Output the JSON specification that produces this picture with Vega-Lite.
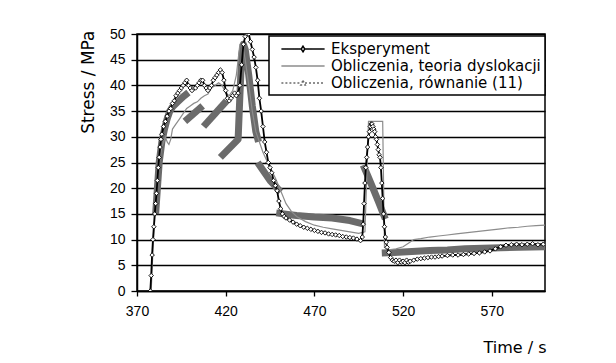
{
  "$schema": "https://vega.github.io/schema/vega-lite/v6.json",
  "width": 408,
  "height": 257,
  "autosize": {"type": "none"},
  "padding": {"left": 137, "top": 34, "right": 71, "bottom": 72},
  "background": "white",
  "config": {
    "font": "Liberation Sans",
    "view": {"stroke": "black", "strokeWidth": 1.5}
  },
  "datasets": {
    "exp": [
      {"t":377.5,"v":0},{"t":378,"v":3},{"t":378.5,"v":7},{"t":379,"v":10},{"t":379.5,"v":12.5},{"t":380,"v":15},{"t":380.5,"v":17},{"t":381,"v":19},{"t":381.5,"v":21.5},{"t":382,"v":24},{"t":382.5,"v":26},{"t":383,"v":28},{"t":383.5,"v":29.5},{"t":384,"v":30.5},{"t":385,"v":32},{"t":386,"v":33},{"t":387,"v":34},{"t":388,"v":35},{"t":389,"v":35.5},{"t":390,"v":36.5},{"t":391,"v":37},{"t":392,"v":38},{"t":393,"v":38.5},{"t":394,"v":39},{"t":395,"v":39.5},{"t":396,"v":40},{"t":397,"v":40.5},{"t":398,"v":41},{"t":399,"v":40},{"t":400,"v":39.5},{"t":401,"v":39},{"t":402,"v":39.5},{"t":403,"v":39.5},{"t":404,"v":40},{"t":405,"v":40.5},{"t":406,"v":41},{"t":407,"v":41},{"t":408,"v":40},{"t":409,"v":39.5},{"t":410,"v":39},{"t":411,"v":39.5},{"t":412,"v":40},{"t":413,"v":41},{"t":414,"v":41.5},{"t":415,"v":42},{"t":416,"v":42.5},{"t":417,"v":43},{"t":418,"v":42.5},{"t":419,"v":41},{"t":420,"v":39},{"t":421,"v":37.5},{"t":422,"v":37},{"t":423,"v":37.5},{"t":424,"v":38},{"t":425,"v":38.5},{"t":426,"v":38},{"t":427,"v":38.5},{"t":428,"v":40},{"t":429,"v":44},{"t":430,"v":48},{"t":431,"v":49.5},{"t":432,"v":50},{"t":433,"v":50},{"t":434,"v":48.5},{"t":435,"v":47},{"t":436,"v":45.5},{"t":437,"v":43.5},{"t":438,"v":41},{"t":439,"v":37.5},{"t":440,"v":35},{"t":441,"v":32},{"t":442,"v":29},{"t":443,"v":27},{"t":444,"v":25},{"t":445,"v":24},{"t":446,"v":23},{"t":447,"v":21.5},{"t":448,"v":20.5},{"t":449,"v":19.5},{"t":450,"v":17.5},{"t":451,"v":16},{"t":452,"v":15},{"t":453,"v":14.5},{"t":454,"v":14.2},{"t":456,"v":13.8},{"t":458,"v":13.4},{"t":460,"v":13},{"t":462,"v":12.7},{"t":464,"v":12.4},{"t":466,"v":12.2},{"t":468,"v":12},{"t":470,"v":11.8},{"t":472,"v":11.6},{"t":474,"v":11.4},{"t":476,"v":11.3},{"t":478,"v":11.1},{"t":480,"v":11},{"t":482,"v":10.9},{"t":484,"v":10.8},{"t":486,"v":10.6},{"t":488,"v":10.5},{"t":490,"v":10.4},{"t":492,"v":10.3},{"t":494,"v":10.1},{"t":496,"v":9.8},{"t":497,"v":10.5},{"t":497.5,"v":13},{"t":498,"v":17},{"t":498.5,"v":21},{"t":499,"v":24},{"t":499.5,"v":26},{"t":500,"v":28},{"t":500.5,"v":30},{"t":501,"v":31},{"t":501.5,"v":32},{"t":502,"v":32.5},{"t":502.5,"v":32.5},{"t":503,"v":32},{"t":503.5,"v":31.5},{"t":504,"v":31},{"t":504.5,"v":30},{"t":505,"v":29.5},{"t":505.5,"v":28.5},{"t":506,"v":27.5},{"t":506.5,"v":26.5},{"t":507,"v":26},{"t":507.5,"v":24},{"t":508,"v":21},{"t":508.5,"v":18},{"t":509,"v":15},{"t":509.5,"v":12.5},{"t":510,"v":10.5},{"t":510.5,"v":9.5},{"t":511,"v":8.5},{"t":512,"v":7.5},{"t":513,"v":6.5},{"t":514,"v":6},{"t":515,"v":5.8},{"t":516,"v":6},{"t":517,"v":5.5},{"t":518,"v":6},{"t":519,"v":5.6},{"t":520,"v":5.8},{"t":521,"v":5.5},{"t":522,"v":6},{"t":523,"v":5.6},{"t":524,"v":5.8},{"t":526,"v":6},{"t":528,"v":6.2},{"t":530,"v":6.3},{"t":532,"v":6.4},{"t":534,"v":6.5},{"t":536,"v":6.6},{"t":538,"v":6.6},{"t":540,"v":6.7},{"t":542,"v":6.8},{"t":545,"v":6.9},{"t":548,"v":7},{"t":551,"v":7},{"t":554,"v":7.1},{"t":557,"v":7.2},{"t":560,"v":7.3},{"t":563,"v":7.4},{"t":566,"v":7.6},{"t":569,"v":7.8},{"t":572,"v":8.2},{"t":575,"v":8.6},{"t":578,"v":8.9},{"t":581,"v":9},{"t":584,"v":9.1},{"t":587,"v":9},{"t":590,"v":9.1},{"t":593,"v":9.2},{"t":596,"v":9},{"t":599,"v":9.1}
    ],
    "teo": [
      {"t":378,"v":0},{"t":379,"v":8},{"t":380,"v":14},{"t":381,"v":19},{"t":382,"v":23},{"t":383,"v":26},{"t":384,"v":28},{"t":385,"v":29},{"t":386,"v":30},{"t":387,"v":29},{"t":388,"v":28.5},{"t":389,"v":29.5},{"t":390,"v":31.5},{"t":392,"v":32.5},{"t":394,"v":33.5},{"t":396,"v":34.5},{"t":398,"v":35.5},{"t":400,"v":36},{"t":402,"v":36.5},{"t":404,"v":36.8},{"t":406,"v":37.5},{"t":408,"v":38},{"t":410,"v":38.3},{"t":412,"v":39.5},{"t":414,"v":40},{"t":416,"v":40.5},{"t":418,"v":40},{"t":420,"v":38.5},{"t":422,"v":38},{"t":424,"v":39},{"t":426,"v":42},{"t":427,"v":45},{"t":428,"v":48},{"t":429.5,"v":48},{"t":431,"v":45},{"t":433,"v":40},{"t":435,"v":35},{"t":437,"v":31},{"t":439,"v":29},{"t":441,"v":27},{"t":443,"v":25.5},{"t":445,"v":24},{"t":448,"v":22},{"t":451,"v":19.5},{"t":454,"v":17},{"t":457,"v":15.5},{"t":460,"v":14.5},{"t":465,"v":13.5},{"t":470,"v":12.8},{"t":475,"v":12.4},{"t":480,"v":12.1},{"t":485,"v":11.8},{"t":490,"v":11.5},{"t":495,"v":11.2},{"t":498.5,"v":11.5},{"t":499.5,"v":22},{"t":500.5,"v":33},{"t":508.5,"v":33},{"t":509.5,"v":8.5},{"t":512,"v":8},{"t":516,"v":8.2},{"t":520,"v":8.6},{"t":523,"v":9.3},{"t":526,"v":10},{"t":530,"v":10.2},{"t":535,"v":10.5},{"t":540,"v":10.7},{"t":545,"v":10.9},{"t":550,"v":11.1},{"t":555,"v":11.3},{"t":560,"v":11.5},{"t":565,"v":11.7},{"t":570,"v":11.9},{"t":575,"v":12.1},{"t":580,"v":12.3},{"t":585,"v":12.4},{"t":590,"v":12.6},{"t":595,"v":12.7},{"t":600,"v":12.8}
    ],
    "rown": [
      {"g":1,"t":380.5,"v":15},{"g":1,"t":381.5,"v":20},{"g":1,"t":382.5,"v":25},{"g":1,"t":384,"v":29},{"g":1,"t":385.5,"v":31.5},{"g":1,"t":387,"v":33.5},{"g":1,"t":388.5,"v":35},{"g":1,"t":390,"v":35.8},{"g":1,"t":393,"v":36.8},{"g":1,"t":396,"v":37.8},{"g":1,"t":399,"v":38.6},
      {"g":2,"t":397,"v":33},{"g":2,"t":407,"v":36},
      {"g":3,"t":407.5,"v":32},{"g":3,"t":420.5,"v":37},
      {"g":4,"t":417,"v":26},{"g":4,"t":427,"v":29.5},{"g":4,"t":428,"v":38},{"g":4,"t":429,"v":46},{"g":4,"t":430,"v":48},{"g":4,"t":431,"v":47},{"g":4,"t":433,"v":42},{"g":4,"t":435,"v":36},{"g":4,"t":437,"v":31},{"g":4,"t":438.5,"v":29},
      {"g":5,"t":438,"v":25},{"g":5,"t":441,"v":23.5},{"g":5,"t":445,"v":21.5},{"g":5,"t":451,"v":19.3},
      {"g":6,"t":448.5,"v":15.2},{"g":6,"t":455,"v":14.9},{"g":6,"t":460,"v":14.7},{"g":6,"t":470,"v":14.4},{"g":6,"t":480,"v":14.2},{"g":6,"t":490,"v":13.7},{"g":6,"t":498,"v":13},
      {"g":7,"t":497.5,"v":24.5},{"g":7,"t":500,"v":22.5},{"g":7,"t":503,"v":20},{"g":7,"t":506,"v":17.5},{"g":7,"t":510,"v":14},
      {"g":8,"t":508,"v":7.4},{"g":8,"t":515,"v":7.5},{"g":8,"t":525,"v":7.7},{"g":8,"t":535,"v":7.9},{"g":8,"t":545,"v":8},{"g":8,"t":555,"v":8.2},{"g":8,"t":565,"v":8.3},{"g":8,"t":575,"v":8.4},{"g":8,"t":585,"v":8.5},{"g":8,"t":600,"v":8.6}
    ]
  },
  "encoding": {
    "x": {
      "field": "t", "type": "quantitative",
      "scale": {"domain": [370, 600], "nice": false, "zero": false},
      "axis": {
        "values": [370, 420, 470, 520, 570], "grid": false,
        "title": "Time / s", "tickSize": 5, "tickColor": "black", "tickWidth": 1.3,
        "domainColor": "black", "domainWidth": 1.5,
        "labelColor": "black", "labelFontSize": 14, "labelPadding": 8, "labelFlush": false,
        "titleFont": "DejaVu Sans", "titleFontSize": 16, "titleFontWeight": "normal", "titleColor": "black",
        "titleX": 409, "titleY": 61, "titleAlign": "right", "titleBaseline": "alphabetic"
      }
    },
    "y": {
      "field": "v", "type": "quantitative",
      "scale": {"domain": [0, 50], "nice": false, "zero": true},
      "axis": {
        "values": [0, 5, 10, 15, 20, 25, 30, 35, 40, 45, 50],
        "labelOverlap": false,
        "grid": true, "gridColor": "black", "gridWidth": 1.3, "gridOpacity": 1,
        "tickSize": 6, "tickColor": "black", "tickWidth": 1.3,
        "domainColor": "black", "domainWidth": 1.5,
        "labelColor": "black", "labelFontSize": 14, "labelPadding": 6,
        "title": "Stress / MPa", "titleFont": "DejaVu Sans", "titleFontSize": 17, "titleFontWeight": "normal", "titleColor": "black",
        "titleAngle": -90, "titleX": -49, "titleY": -4, "titleAlign": "right", "titleBaseline": "middle"
      }
    }
  },
  "layer": [
    {
      "data": {"name": "rown"},
      "mark": {"type": "line", "strokeWidth": 7, "strokeCap": "butt", "strokeJoin": "round", "clip": true},
      "encoding": {
        "detail": {"field": "g", "type": "nominal"},
        "color": {
          "datum": "Obliczenia, równanie (11)",
          "scale": {
            "domain": ["Eksperyment", "Obliczenia, teoria dyslokacji", "Obliczenia, równanie (11)"],
            "range": ["black", "#8c8c8c", "#6b6b6b"]
          },
          "legend": {
            "title": null, "orient": "none", "legendX": 132, "legendY": 2,
            "fillColor": "white", "strokeColor": "black", "padding": 4,
            "symbolType": "stroke", "symbolSize": 256, "symbolStrokeWidth": 1.5,
            "symbolOffset": 21, "labelOffset": 19, "rowPadding": 0,
            "labelFont": "DejaVu Sans", "labelFontSize": 15, "labelColor": "black", "labelLimit": 400,
            "encode": {
              "legend": {"update": {"strokeWidth": {"value": 1.5}}},
              "symbols": {
                "update": {
                  "shape": {"signal": "datum.value === 'Eksperyment' ? 'M-2.7,0H-0.2M0.2,0H2.7M0,-0.35L0.22,0L0,0.35L-0.22,0Z' : (datum.value === 'Obliczenia, równanie (11)' ? 'M-2.7,0H-0.25M0.25,0H2.7M0,-0.3L0.28,0.25L-0.28,0.25Z' : 'M-2.7,0H2.7')"},
                  "strokeDash": {"signal": "datum.value === 'Obliczenia, równanie (11)' ? [2, 2] : [1, 0]"},
                  "fill": {"value": "white"}
                }
              }
            }
          }
        }
      }
    },
    {
      "data": {"name": "teo"},
      "mark": {"type": "line", "strokeWidth": 1.2, "clip": true},
      "encoding": {
        "color": {"datum": "Obliczenia, teoria dyslokacji"}
      }
    },
    {
      "data": {"name": "exp"},
      "mark": {"type": "line", "strokeWidth": 1.8, "clip": true},
      "encoding": {
        "color": {"datum": "Eksperyment"}
      }
    },
    {
      "data": {"name": "exp"},
      "mark": {"type": "point", "shape": "diamond", "filled": true, "fill": "white", "stroke": "black", "strokeWidth": 0.9, "size": 20, "opacity": 1, "clip": true},
      "encoding": {}
    }
  ]
}
